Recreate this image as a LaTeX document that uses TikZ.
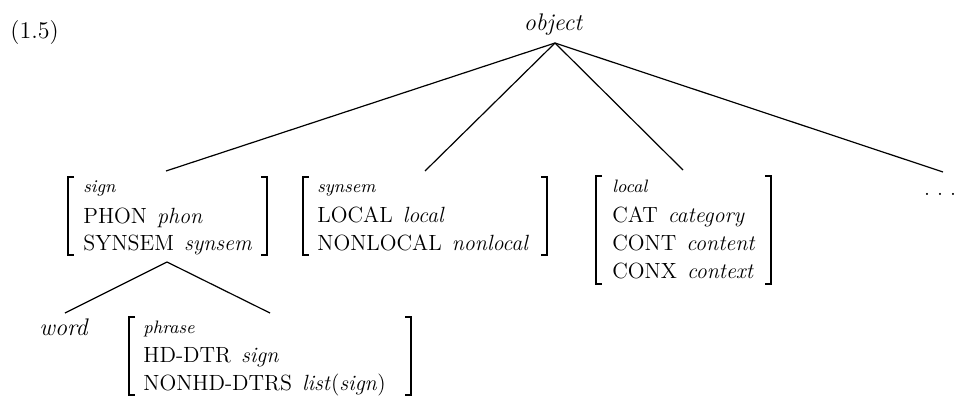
\documentclass[tikz,border=0pt]{standalone}
\usepackage{tikz}
\newcommand\fv[2]{#1\hspace{5pt}\textit{#2}}
\tikzset{
  lbl/.style={anchor=base west, inner sep=0pt, font=\fontsize{11}{13}\selectfont},
  typ/.style={anchor=base west, inner sep=0pt, font=\fontsize{9}{10}\selectfont\itshape},
  bigit/.style={font=\fontsize{12}{14}\selectfont\itshape},
  edge/.style={line width=0.6pt},
  brk/.style={line width=0.75pt, line join=miter},
}
\begin{document}
\begin{tikzpicture}[x=0.5pt, y=-0.5pt]
\useasboundingbox (0,0) rectangle (957,397);
% labels
\node[anchor=base west, inner sep=0pt, font=\fontsize{12}{14}\selectfont] (ex) at (10,38) {(1.5)};
\node[bigit, anchor=base, inner sep=0pt] (obj) at (553,30) {object};
\coordinate (apex) at (555,43);
% top-level tree
\coordinate (b1top) at (166,171);
\coordinate (b2top) at (425,171);
\coordinate (b3top) at (683,170);
\coordinate (dtop) at (943,172);
\draw[edge] (apex) -- (b1top);
\draw[edge] (apex) -- (b2top);
\draw[edge] (apex) -- (b3top);
\draw[edge] (apex) -- (dtop);
% box 1: sign
\node[typ] (s0) at (83,192) {sign};
\node[lbl] (s1) at (83,223) {\fv{PHON}{phon}};
\node[lbl] (s2) at (83,250) {\fv{SYNSEM}{synsem}};
\draw[brk] (74,177) -- (68,177) -- (68,255) -- (74,255);
\draw[brk] (261,177) -- (267,177) -- (267,255) -- (261,255);
% box 2: synsem
\node[typ] (y0) at (317,192) {synsem};
\node[lbl] (y1) at (317,222) {\fv{LOCAL}{local}};
\node[lbl] (y2) at (317,250) {\fv{NONLOCAL}{nonlocal}};
\draw[brk] (309,177) -- (303,177) -- (303,255) -- (309,255);
\draw[brk] (541,177) -- (547,177) -- (547,255) -- (541,255);
% box 3: local
\node[typ] (l0) at (612,192) {local};
\node[lbl] (l1) at (612,222) {\fv{CAT}{category}};
\node[lbl] (l2) at (612,250) {\fv{CONT}{content}};
\node[lbl] (l3) at (612,278) {\fv{CONX}{context}};
\draw[brk] (602,176) -- (596,176) -- (596,284) -- (602,284);
\draw[brk] (765,176) -- (771,176) -- (771,284) -- (765,284);
% dots
\node[lbl, anchor=base] (dots) at (940,195) {.\hspace{3.5pt}.\hspace{3.5pt}.};
% subtree of sign
\coordinate (b1bot) at (167,262);
\coordinate (wtop) at (65,313);
\coordinate (ptop) at (270,313);
\draw[edge] (b1bot) -- (wtop);
\draw[edge] (b1bot) -- (ptop);
\node[bigit, anchor=base west, inner sep=0pt] (word) at (39,335) {word};
% box 4: phrase
\node[typ] (p0) at (143,333) {phrase};
\node[lbl] (p1) at (143,362) {\fv{HD-DTR}{sign}};
\node[lbl] (p2) at (143,390) {NONHD-DTRS\hspace{5pt}\textit{list}(\textit{sign})};
\draw[brk] (135,317) -- (129,317) -- (129,395) -- (135,395);
\draw[brk] (405,317) -- (411,317) -- (411,395) -- (405,395);
\end{tikzpicture}
\end{document}
